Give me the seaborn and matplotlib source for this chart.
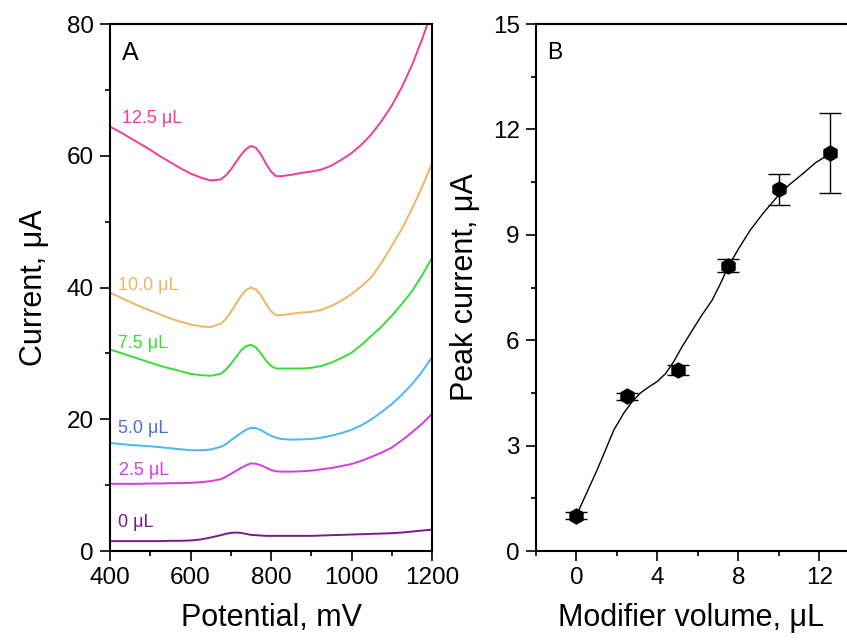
import numpy as np
import pandas as pd
import matplotlib
matplotlib.use("Agg")
import matplotlib.pyplot as plt
import seaborn as sns
from matplotlib.ticker import MultipleLocator

# Panel A: voltammograms (potential grid, mV)
potential = [400, 425, 450, 475, 500, 525, 550, 575, 600, 625, 650, 675,
             687.5, 700, 712.5, 725, 737.5, 750, 762.5, 775, 787.5, 800,
             812.5, 825, 850, 875, 900, 925, 950, 975, 1000, 1025, 1050,
             1075, 1100, 1125, 1150, 1175, 1200]
cur_0 = [1.5, 1.5, 1.5, 1.5, 1.5, 1.5, 1.55, 1.55, 1.6, 1.75, 2.05, 2.4,
         2.6, 2.75, 2.8, 2.75, 2.6, 2.45, 2.4, 2.35, 2.3, 2.3,
         2.3, 2.3, 2.3, 2.3, 2.3, 2.35, 2.4, 2.45, 2.5, 2.55, 2.6,
         2.65, 2.7, 2.8, 2.95, 3.1, 3.25]
cur_25 = [10.2, 10.2, 10.2, 10.2, 10.25, 10.25, 10.3, 10.3, 10.35, 10.45, 10.6, 10.9,
          11.25, 11.7, 12.15, 12.6, 13.0, 13.3, 13.25, 13.0, 12.65, 12.3,
          12.1, 12.05, 12.05, 12.1, 12.2, 12.4, 12.6, 12.9, 13.2, 13.7, 14.3,
          14.95, 15.7, 16.8, 18.0, 19.3, 20.8]
cur_50 = [16.4, 16.25, 16.1, 16.0, 15.9, 15.75, 15.6, 15.45, 15.3, 15.3, 15.4, 15.8,
          16.2, 16.8, 17.35, 17.9, 18.4, 18.7, 18.65, 18.35, 17.9, 17.5,
          17.2, 17.0, 16.9, 16.95, 17.0, 17.2, 17.5, 17.9, 18.4, 19.1, 20.0,
          21.1, 22.3, 23.7, 25.3, 27.2, 29.4]
cur_75 = [30.6, 30.1, 29.6, 29.1, 28.6, 28.1, 27.7, 27.3, 26.9, 26.7, 26.6, 26.9,
          27.5, 28.4, 29.4, 30.4, 31.1, 31.3, 30.9, 30.0, 28.9, 28.1,
          27.7, 27.7, 27.7, 27.7, 27.8, 28.1, 28.6, 29.3, 30.1, 31.3, 32.7,
          34.1, 35.7, 37.5, 39.4, 41.8, 44.5]
cur_100 = [39.2, 38.5, 37.8, 37.1, 36.5, 35.9, 35.3, 34.8, 34.4, 34.1, 34.0, 34.5,
           35.2, 36.3, 37.5, 38.7, 39.6, 40.0, 39.7, 38.8, 37.5, 36.4,
           35.8, 35.8, 36.0, 36.2, 36.3, 36.6, 37.2, 38.0, 39.0, 40.2, 41.6,
           43.8, 46.3, 48.9, 51.9, 55.2, 58.8]
cur_125 = [64.4, 63.6, 62.7, 61.8, 60.9, 59.9, 59.0, 58.1, 57.3, 56.7, 56.25, 56.4,
           57.0, 57.9, 59.0, 60.1, 61.0, 61.5, 61.2, 60.2, 58.8, 57.6,
           56.9, 56.9, 57.1, 57.4, 57.6, 57.9, 58.5, 59.4, 60.4, 61.7, 63.3,
           65.3, 67.6, 70.4, 73.7, 77.6, 82.0]

curve_labels = ["0 μL", "2.5 μL", "5.0 μL", "7.5 μL", "10.0 μL", "12.5 μL"]
label_x = [420, 422, 419, 420, 420, 429]
label_y = [3.7, 11.5, 17.9, 30.8, 39.6, 64.9]
line_colors = ["#7a1a8a", "#d63be8", "#4bb8f5", "#35e035", "#ecb664", "#f03c9c"]
text_colors = ["#7a1a8a", "#d63be8", "#5468e0", "#35e035", "#ecb664", "#f03c9c"]

# Panel B: peak current vs modifier volume
volume = [0, 2.5, 5, 7.5, 10, 12.5]
peak = [1.0, 4.41, 5.15, 8.12, 10.29, 11.33]
peak_err = [0.1, 0.1, 0.15, 0.18, 0.43, 1.13]

# smooth fit line
fit_x = [0, 0.16, 0.5, 1.02, 1.4, 1.84, 2.34, 2.75, 3.16, 3.6, 3.98, 4.4,
         4.8, 5.2, 5.63, 6.2, 6.7, 7.1, 7.49, 8.0, 8.59, 9.2, 9.91, 10.5,
         11.2, 11.8, 12.5]
fit_y = [1.0, 1.22, 1.65, 2.31, 2.83, 3.44, 3.93, 4.25, 4.5, 4.68, 4.82, 5.05,
         5.39, 5.8, 6.2, 6.72, 7.14, 7.6, 8.09, 8.6, 9.14, 9.6, 10.08, 10.42,
         10.75, 11.05, 11.3]

sns.set_style("ticks")
plt.rcParams['font.family'] = ['Liberation Sans', 'DejaVu Sans']
plt.rcParams.update({"text.color": "black", "axes.labelcolor": "black",
                     "xtick.color": "black", "ytick.color": "black"})

fig = plt.figure(figsize=(8.47, 6.44), dpi=100)
axA = fig.add_axes([0.130, 0.1444, 0.380, 0.8183])
axB = fig.add_axes([0.6328, 0.1444, 0.3672, 0.8183])

curves = [cur_0, cur_25, cur_50, cur_75, cur_100, cur_125]
for vals, col in zip(curves, line_colors):
    sns.lineplot(x=potential, y=vals, ax=axA, color=col, lw=1.4)
for lab, lx, ly, col in zip(curve_labels, label_x, label_y, text_colors):
    axA.text(lx, ly, lab, color=col, fontsize=13, va="baseline", ha="left")

axA.set_xlim(400, 1200)
axA.set_ylim(0, 80)
axA.xaxis.set_major_locator(MultipleLocator(200))
axA.xaxis.set_minor_locator(MultipleLocator(100))
axA.yaxis.set_major_locator(MultipleLocator(20))
axA.yaxis.set_minor_locator(MultipleLocator(10))
axA.set_xlabel("Potential, mV", fontsize=22, labelpad=10)
axA.set_ylabel("Current, μA", fontsize=22, labelpad=13)
axA.text(0.037, 0.932, "A", transform=axA.transAxes, fontsize=18, va="baseline")

# panel B
axB.errorbar(volume, peak, yerr=peak_err, fmt="none", ecolor="black",
             elinewidth=1, capsize=8, capthick=1, zorder=2)
sns.lineplot(x=fit_x, y=fit_y, ax=axB, color="black", lw=1, zorder=1)
sns.scatterplot(x=volume, y=peak, ax=axB, marker="h", s=120, color="black",
                edgecolor="black", zorder=3)
axB.set_xlim(-2, 13.36)
axB.set_ylim(0, 15)
axB.xaxis.set_major_locator(MultipleLocator(4))
axB.xaxis.set_minor_locator(MultipleLocator(2))
axB.yaxis.set_major_locator(MultipleLocator(3))
axB.yaxis.set_minor_locator(MultipleLocator(1.5))
axB.set_xlabel("Modifier volume, μL", fontsize=22, labelpad=10)
axB.set_ylabel("Peak current, μA", fontsize=22, labelpad=9)
axB.text(0.035, 0.934, "B", transform=axB.transAxes, fontsize=16.5, va="baseline")
axB.spines["right"].set_visible(False)

for ax in (axA, axB):
    for s in ax.spines.values():
        s.set_linewidth(1.5)
        s.set_color("black")
    ax.tick_params(which="major", direction="out", length=7.2, width=1.2,
                   labelsize=17.5, pad=4.5)
    ax.tick_params(which="minor", direction="out", length=3.5, width=1.2)

fig.savefig("out.png", dpi=100)
